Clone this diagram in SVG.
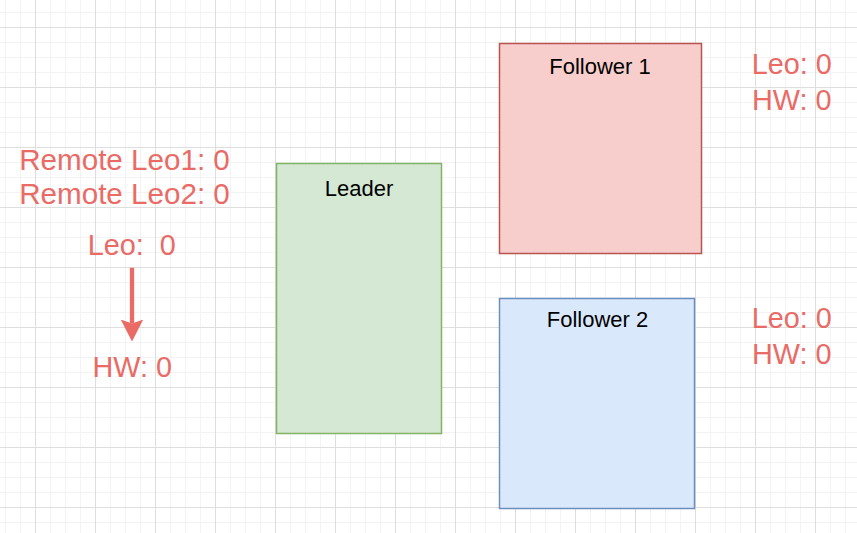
<svg xmlns="http://www.w3.org/2000/svg" width="857" height="533" viewBox="0 0 857 533">
  <style>
    .node-label { font-family: "Liberation Sans", Arial, sans-serif; font-size: 22px; fill: #000000; text-anchor: middle; }
    .red-label { font-family: "Liberation Sans", Arial, sans-serif; font-size: 28.8px; fill: #EA6B66; text-anchor: middle; white-space: pre; }
    .remote { font-size: 29.6px; }
    .box { stroke-width: 1.5; }
    .leader { fill: #d5e8d4; stroke: #82b366; }
    .f1 { fill: #f8cecc; stroke: #b85450; }
    .f2 { fill: #dae8fc; stroke: #6c8ebf; }
    .edge { stroke: #EA6B66; stroke-width: 4.3; fill: none; }
  </style>
  <defs>
    <pattern id="minor" patternUnits="userSpaceOnUse" x="5" y="12" width="15" height="15">
      <path d="M0 0.5H15M0.5 0V15" stroke="#f3f3f3" stroke-width="1" fill="none"/>
    </pattern>
    <pattern id="major" patternUnits="userSpaceOnUse" x="35" y="27" width="60" height="60">
      <path d="M0 0.5H60M0.5 0V60" stroke="#dedede" stroke-width="1" fill="none"/>
    </pattern>
    <marker id="arrow" markerUnits="userSpaceOnUse" viewBox="0 0 22 23" markerWidth="22" markerHeight="23" refX="4" refY="11.3" orient="auto">
      <path d="M0,0 L22,11.3 L0,22.6 L4,11.3 Z" fill="#EA6B66"/>
    </marker>
  </defs>

  <rect width="857" height="533" fill="#ffffff"/>
  <rect width="857" height="533" fill="url(#minor)"/>
  <rect width="857" height="533" fill="url(#major)"/>

  <g id="leader">
    <rect class="box leader" x="276.5" y="163.5" width="165" height="270"/>
    <text class="node-label" x="359" y="196">Leader</text>
  </g>
  <g id="follower1">
    <rect class="box f1" x="499.5" y="43.5" width="202" height="210"/>
    <text class="node-label" x="600" y="74">Follower 1</text>
  </g>
  <g id="follower2">
    <rect class="box f2" x="499.5" y="298.5" width="195" height="210"/>
    <text class="node-label" x="597.5" y="326.7">Follower 2</text>
  </g>

  <g id="leader-remote">
    <text class="red-label remote" x="124.5" y="169.5">Remote Leo1: 0</text>
    <text class="red-label remote" x="124.5" y="204">Remote Leo2: 0</text>
  </g>
  <g id="leader-leo">
    <text class="red-label" x="131.7" y="255">Leo:  0</text>
  </g>
  <g id="leader-hw">
    <text class="red-label" x="132.2" y="376.7">HW: 0</text>
  </g>
  <g id="follower1-state">
    <text class="red-label" x="791.7" y="74">Leo: 0</text>
    <text class="red-label" x="791.7" y="110">HW: 0</text>
  </g>
  <g id="follower2-state">
    <text class="red-label" x="791.7" y="327.7">Leo: 0</text>
    <text class="red-label" x="791.7" y="364.3">HW: 0</text>
  </g>

  <g id="connectors">
    <line class="edge" x1="132" y1="267.7" x2="132" y2="323.5" marker-end="url(#arrow)"/>
  </g>
</svg>
